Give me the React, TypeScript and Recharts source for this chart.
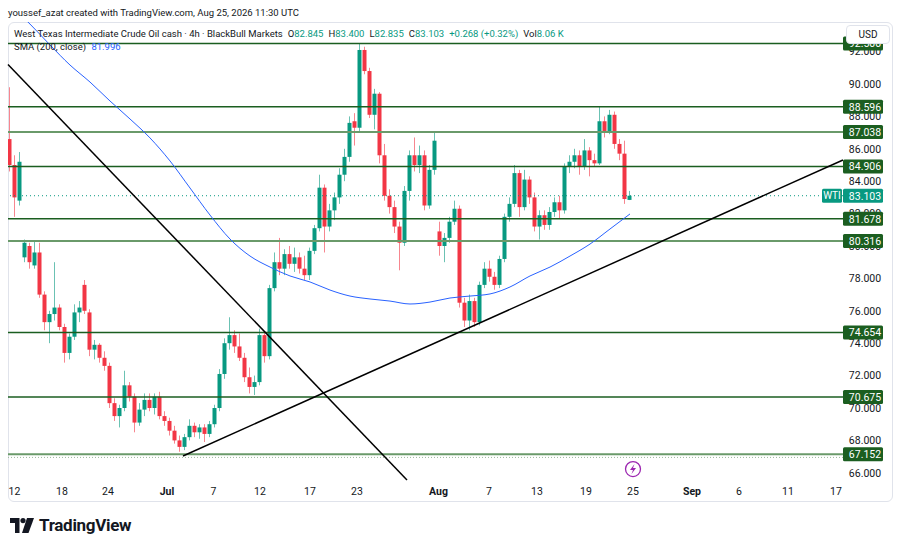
import React from "react";
import {
  ComposedChart,
  Bar,
  Line,
  XAxis,
  YAxis,
  ReferenceLine,
  ReferenceDot,
} from "recharts";

// 4h candles (thinned), one week per array: [open, high, low, close]
const weekJun12 = [
  [86.6, 89.8, 84.6, 85.0],
  [85.0, 85.6, 81.8, 83.0],
  [82.8, 85.8, 82.5, 85.2],
];
const weekJun15 = [
  [79.3, 80.4, 79.0, 80.2],
  [80.0, 80.2, 78.6, 79.0],
  [78.8, 80.3, 78.6, 79.6],
  [79.6, 80.2, 76.8, 77.0],
  [77.0, 77.2, 74.8, 75.3],
  [75.3, 76.0, 74.0, 75.8],
  [75.8, 79.0, 75.4, 76.2],
  [76.2, 76.4, 74.8, 75.0],
  [75.0, 75.2, 72.8, 73.4],
  [73.4, 74.6, 73.0, 74.4],
  [74.4, 76.4, 74.2, 75.9],
  [75.9, 76.6, 75.3, 76.2],
];
const weekJun22 = [
  [77.6, 77.9, 75.8, 76.0],
  [75.9, 76.1, 73.2, 73.6],
  [73.6, 74.2, 73.0, 73.9],
  [73.9, 74.0, 72.8, 73.1],
  [73.1, 73.5, 72.3, 72.6],
  [72.6, 72.8, 70.0, 70.3],
  [70.3, 70.6, 69.2, 69.5],
  [69.5, 70.2, 68.8, 70.0],
  [70.0, 72.3, 69.8, 71.4],
  [71.4, 71.6, 70.4, 70.7],
  [70.7, 70.9, 68.5, 69.1],
  [69.1, 70.3, 68.9, 69.9],
];
const weekJun29 = [
  [69.9, 70.9, 69.5, 70.5],
  [70.5, 70.9, 69.8, 70.0],
  [70.0, 70.9, 69.6, 70.7],
  [70.7, 71.0, 69.3, 69.5],
  [69.5, 69.8, 68.9, 69.2],
  [69.2, 69.4, 68.3, 68.6],
  [68.6, 68.9, 67.8, 68.0],
  [68.0, 68.3, 67.3, 67.6],
  [67.6, 68.4, 67.4, 68.2],
  [68.2, 69.3, 68.0, 68.9],
  [68.9, 69.1, 68.2, 68.5],
  [68.5, 69.0, 68.1, 68.8],
];
const weekJul06 = [
  [68.8, 69.0, 67.9, 68.4],
  [68.4, 69.2, 68.2, 69.0],
  [69.0, 70.2, 68.8, 70.0],
  [70.0, 72.4, 69.8, 72.1],
  [72.1, 74.3, 71.8, 74.0],
  [74.0, 75.6, 73.6, 74.5],
  [74.5, 74.8, 73.4, 73.8],
  [73.8, 74.6, 72.9, 73.1],
  [73.1, 73.4, 71.6, 71.9],
  [71.9, 72.5, 70.9, 71.3],
  [71.3, 72.0, 70.8, 71.6],
  [71.6, 74.9, 71.4, 74.5],
];
const weekJul13 = [
  [74.5, 74.7, 72.8, 73.2],
  [73.2, 77.6, 73.0, 77.4],
  [77.4, 79.6, 77.2, 79.0],
  [79.0, 80.5, 78.2, 78.6],
  [78.6, 79.8, 78.2, 79.5],
  [79.5, 80.0, 78.6, 78.9],
  [78.9, 79.9, 78.4, 79.3],
  [79.3, 79.6, 78.3, 78.6],
  [78.6, 79.4, 77.9, 78.2],
  [78.2, 79.9, 77.9, 79.7],
  [79.7, 81.3, 79.5, 81.1],
  [81.1, 84.4, 80.9, 83.6],
];
const weekJul20 = [
  [83.6, 83.8, 79.6, 81.2],
  [81.2, 82.6, 80.9, 82.2],
  [82.2, 83.3, 81.6, 83.0],
  [83.0, 84.8, 82.6, 84.4],
  [84.4, 86.0, 84.0, 85.5],
  [85.5, 88.0, 85.2, 87.6],
  [87.7, 88.2, 86.2, 87.3],
  [87.3, 92.5, 87.1, 92.1],
  [92.1, 92.3, 90.6, 90.8],
  [90.8, 91.0, 87.9, 88.1],
  [88.1, 89.7, 87.2, 89.4],
  [89.4, 89.5, 85.1, 85.6],
];
const weekJul27 = [
  [85.6, 86.3, 82.8, 83.1],
  [83.1, 83.5, 82.0, 82.4],
  [82.4, 82.8, 80.8, 81.2],
  [81.2, 81.5, 78.5, 80.2],
  [80.2, 83.7, 80.0, 83.4],
  [83.4, 85.9, 82.8, 85.6],
  [85.6, 86.7, 84.6, 85.0],
  [85.0, 86.2, 84.5, 85.6],
  [85.6, 85.9, 82.2, 82.5],
  [82.5, 85.0, 82.3, 84.7],
  [84.7, 87.0, 84.4, 86.5],
];
const weekAug03 = [
  [80.9, 81.5, 79.4, 80.0],
  [80.0, 80.8, 79.0, 80.5],
  [80.5, 81.8, 80.2, 81.5],
  [81.5, 82.8, 81.3, 82.3],
  [82.3, 82.5, 76.2, 76.5],
  [76.5, 76.8, 75.0, 75.4],
  [75.4, 77.0, 74.8, 76.6],
  [76.6, 76.8, 75.0, 75.3],
  [75.3, 77.8, 75.1, 77.6],
  [77.6, 79.0, 77.4, 78.6],
  [78.6, 79.1, 77.8, 78.1],
  [78.1, 78.4, 77.3, 77.6],
];
const weekAug10 = [
  [77.6, 79.4, 77.4, 79.2],
  [79.2, 82.0, 79.0, 81.8],
  [81.8, 83.0, 81.5, 82.6],
  [82.6, 85.0, 82.4, 84.5],
  [84.5, 84.7, 81.8, 82.4],
  [82.4, 84.7, 82.2, 84.1],
  [84.1, 84.3, 82.6, 83.0],
  [83.0, 83.3, 80.9, 81.2],
  [81.2, 82.2, 80.4, 81.9],
  [81.9, 82.2, 81.0, 81.3],
  [81.3, 82.4, 81.0, 82.1],
  [82.1, 83.0, 81.8, 82.7],
];
const weekAug17 = [
  [82.7, 83.1, 81.7, 82.2],
  [82.2, 85.1, 82.0, 84.9],
  [84.9, 85.6, 84.5, 85.2],
  [85.2, 86.0, 84.8, 85.6],
  [85.6, 85.9, 84.4, 84.9],
  [84.9, 86.6, 84.7, 85.9],
  [85.9, 86.1, 84.3, 85.3],
  [85.3, 85.7, 84.9, 85.1],
  [85.1, 88.6, 85.0, 87.7],
  [87.7, 88.0, 86.7, 87.1],
  [87.1, 88.4, 86.9, 88.1],
  [88.1, 88.3, 86.0, 86.3],
];
const weekAug24 = [
  [86.3, 86.6, 85.3, 85.7],
  [85.7, 86.5, 82.6, 82.9],
  [82.845, 83.4, 82.835, 83.103],
];

// SMA(200) read at every 4th slot
const smaBars = [2, 4, 8, 12, 16, 20, 24, 28, 32, 36, 40, 44, 48, 52, 56, 60, 64, 68, 72, 76, 80, 84, 88, 92, 96, 100, 104, 108, 112, 116, 120, 124];
const smaValues = [94.3, 93.7, 92.41, 91.17, 90.12, 88.95, 87.84, 86.67, 85.25, 83.58, 81.91, 80.43, 79.38, 78.7, 78.15, 77.78, 77.28, 76.91, 76.73, 76.6, 76.42, 76.54, 76.79, 76.91, 77.04, 77.47, 78.15, 78.7, 79.38, 80.12, 81.05, 81.98];

// horizontal levels drawn by the author
const levelPrices = [92.5, 88.596, 87.038, 84.906, 81.678, 80.316, 74.654, 70.675, 67.152];
const softLevels = [87.038, 80.316, 67.152];
const lastPrice = 83.103;

// trend lines as [bar, price] anchors
const fallingTrend = [[-0.4, 91.2], [79.4, 65.56]];
const risingTrend = [[34.6, 67.04], [166.6, 85.31]];

const priceTicks = [66, 68, 70, 72, 74, 76, 78, 80, 82, 84, 86, 88, 90, 92];
const dateTickBars = [0.9, 10.4, 19.6, 31.4, 40.7, 50, 60, 69.4, 85.7, 95.8, 105.4, 115.2, 124.6, 136.4, 145.8, 155.6, 165.2];
const dateTickLabels = ["12", "18", "24", "Jul", "7", "12", "17", "23", "Aug", "7", "13", "19", "25", "Sep", "6", "11", "17"];
const monthNames = ["Jul", "Aug", "Sep"];

const UP = "#089981";
const DOWN = "#f23645";
const LEVEL_DARK = "#1b5e20";
const LEVEL_SOFT = "#6a9a6a";
const TEXT = "#131722";
const FONT = "Roboto, 'Noto Sans', sans-serif";

const weeks = [weekJun12, weekJun15, weekJun22, weekJun29, weekJul06, weekJul13, weekJul20, weekJul27, weekAug03, weekAug10, weekAug17, weekAug24];
const candles = weeks.flat().map(([o, h, l, c], i) => ({ t: i, range: [l, h], o, h, l, c }));
const smaData = smaBars.map((t, i) => ({ t, sma: smaValues[i] }));
// axis ticks first, then the tags so they paint on top
const axisTicks = [...priceTicks, ...levelPrices, lastPrice];

function Candle(props: any) {
  const { x, y, width, height, payload } = props;
  if (x == null || y == null) return null;
  const { o, h, l, c } = payload;
  const color = c >= o ? UP : DOWN;
  const top = Math.min(y, y + height);
  const hh = Math.abs(height);
  const k = hh / (h - l || 1);
  const bodyTop = top + (h - Math.max(o, c)) * k;
  const bodyBot = top + (h - Math.min(o, c)) * k;
  const cx = x + width / 2;
  return (
    <g>
      <line x1={cx} x2={cx} y1={top} y2={top + hh} stroke={color} strokeOpacity={0.6} strokeWidth={1} />
      <rect x={x} y={bodyTop} width={width} height={Math.max(1, bodyBot - bodyTop)} fill={color} />
    </g>
  );
}

function PriceTick({ x, y, payload }: any) {
  const v = payload.value;
  const label = (
    <text x={x + 22} y={y} dy="0.36em" textAnchor="middle" fontSize={10.5} fill={v === lastPrice || levelPrices.includes(v) ? "#fff" : TEXT} fontFamily={FONT}>
      {v.toFixed(3)}
    </text>
  );
  if (v === lastPrice) {
    return (
      <g>
        <rect x={x - 21} y={y - 7} width={20} height={14} rx={1.5} fill={UP} />
        <text x={x - 11} y={y} dy="0.36em" textAnchor="middle" fontSize={10} fill="#fff" fontFamily={FONT}>
          WTI
        </text>
        <rect x={x} y={y - 7} width={40} height={14} rx={1.5} fill={UP} />
        {label}
      </g>
    );
  }
  if (levelPrices.includes(v)) {
    return (
      <g>
        <rect x={x} y={y - 7} width={40} height={14} rx={1.5} fill={LEVEL_DARK} />
        {label}
      </g>
    );
  }
  return label;
}

function DateTick({ x, y, payload }: any) {
  const label = dateTickLabels[dateTickBars.indexOf(payload.value)];
  return (
    <text
      x={x}
      y={y + 9}
      dy="0.36em"
      textAnchor="middle"
      fontSize={10.5}
      fontWeight={monthNames.includes(label) ? 700 : 400}
      fill={TEXT}
      fontFamily={FONT}
    >
      {label}
    </text>
  );
}

function BoltIcon(props: any) {
  const { cx, cy } = props;
  if (cx == null) return null;
  return (
    <g>
      <circle cx={cx} cy={cy} r={7.5} fill="#fff" stroke="#9c27b0" strokeWidth={1.3} />
      <path
        d={`M${cx + 1.5} ${cy - 5} L${cx - 3} ${cy + 1} L${cx} ${cy + 1} L${cx - 1.5} ${cy + 5} L${cx + 3} ${cy - 1} L${cx} ${cy - 1} Z`}
        fill="#9c27b0"
      />
    </g>
  );
}

export default function App() {
  return (
    <div
      style={{
        position: "fixed",
        left: 0,
        top: 0,
        width: 900,
        height: 549,
        background: "#fff",
        overflow: "hidden",
        fontFamily: FONT,
        color: TEXT,
      }}
    >
      <div
        style={{
          position: "absolute",
          left: 8,
          top: 22,
          width: 885,
          height: 480,
          border: "1px solid #e0e3eb",
          borderRadius: 6,
          boxSizing: "border-box",
        }}
      />
      <div style={{ position: "absolute", left: 0, top: 0 }}>
        <ComposedChart width={900} height={549} data={candles} margin={{ top: 22, right: 0, bottom: 0, left: 8 }}>
          <XAxis
            dataKey="t"
            type="number"
            domain={[-0.4, 166.6]}
            allowDataOverflow
            ticks={dateTickBars}
            interval={0}
            tick={<DateTick />}
            tickLine={false}
            axisLine={false}
            tickSize={0}
            tickMargin={0}
            height={67}
          />
          <YAxis
            orientation="right"
            type="number"
            domain={[65.432, 93.827]}
            allowDataOverflow
            ticks={axisTicks}
            interval={0}
            tick={<PriceTick />}
            tickLine={false}
            axisLine={false}
            tickSize={0}
            tickMargin={0}
            width={57}
          />
          <ReferenceLine y={66.95} stroke="#9bb89b" strokeDasharray="1 2" strokeWidth={1} />
          <ReferenceLine y={lastPrice} stroke={UP} strokeDasharray="1 3" strokeWidth={1} />
          {levelPrices.map((p) => (
            <ReferenceLine
              key={p}
              y={p}
              stroke={softLevels.includes(p) ? LEVEL_SOFT : LEVEL_DARK}
              strokeWidth={softLevels.includes(p) ? 2 : 1.5}
            />
          ))}
          <Bar dataKey="range" barSize={4} shape={<Candle />} isAnimationActive={false} />
          <Line
            data={smaData}
            dataKey="sma"
            type="monotone"
            stroke="#2962ff"
            strokeWidth={1}
            dot={false}
            activeDot={false}
            isAnimationActive={false}
          />
          <ReferenceLine
            segment={[
              { x: fallingTrend[0][0], y: fallingTrend[0][1] },
              { x: fallingTrend[1][0], y: fallingTrend[1][1] },
            ]}
            stroke="#000"
            strokeWidth={1.5}
            ifOverflow="visible"
          />
          <ReferenceLine
            segment={[
              { x: risingTrend[0][0], y: risingTrend[0][1] },
              { x: risingTrend[1][0], y: risingTrend[1][1] },
            ]}
            stroke="#000"
            strokeWidth={1.5}
            ifOverflow="visible"
          />
          <ReferenceDot x={124.6} y={66.23} r={7.5} shape={<BoltIcon />} ifOverflow="visible" />
        </ComposedChart>
      </div>
      <div style={{ position: "absolute", left: 8, top: 7, fontSize: 9.5, lineHeight: "12px", whiteSpace: "nowrap" }}>
        youssef_azat created with TradingView.com, Aug 25, 2026 11:30 UTC
      </div>
      <div
        style={{
          position: "absolute",
          left: 14,
          top: 28,
          fontSize: 9.5,
          lineHeight: "12px",
          whiteSpace: "nowrap",
          display: "flex",
          gap: 5,
        }}
      >
        <span>West Texas Intermediate Crude Oil cash · 4h · BlackBull Markets</span>
        <span>
          O<span style={{ color: UP }}>82.845</span>
        </span>
        <span>
          H<span style={{ color: UP }}>83.400</span>
        </span>
        <span>
          L<span style={{ color: UP }}>82.835</span>
        </span>
        <span>
          C<span style={{ color: UP }}>83.103</span>
        </span>
        <span style={{ color: UP }}>+0.268 (+0.32%)</span>
        <span>
          Vol<span style={{ color: UP }}>8.06 K</span>
        </span>
      </div>
      <div style={{ position: "absolute", left: 14, top: 41, fontSize: 9.5, lineHeight: "12px", whiteSpace: "nowrap" }}>
        SMA (200, close) <span style={{ color: "#2962ff", marginLeft: 3 }}>81.996</span>
      </div>
      <div
        style={{
          position: "absolute",
          left: 846,
          top: 25,
          width: 44,
          height: 19,
          border: "1px solid #e0e3eb",
          borderRadius: 4,
          background: "#fff",
          boxSizing: "border-box",
          fontSize: 10,
          display: "flex",
          alignItems: "center",
          justifyContent: "center",
        }}
      >
        USD
      </div>
      <div style={{ position: "absolute", left: 10, top: 515, display: "flex", alignItems: "center", gap: 5 }}>
        <svg width={24} height={15} viewBox="0 0 24 15">
          <path d="M0 0 H9.5 V15 H5 V5 H0 Z" fill={TEXT} />
          <circle cx={13} cy={2.6} r={2.6} fill={TEXT} />
          <path d="M17 0 H24 L18.5 15 H12 Z" fill={TEXT} />
        </svg>
        <span style={{ fontSize: 17, fontWeight: 700, letterSpacing: -0.3 }}>TradingView</span>
      </div>
    </div>
  );
}
